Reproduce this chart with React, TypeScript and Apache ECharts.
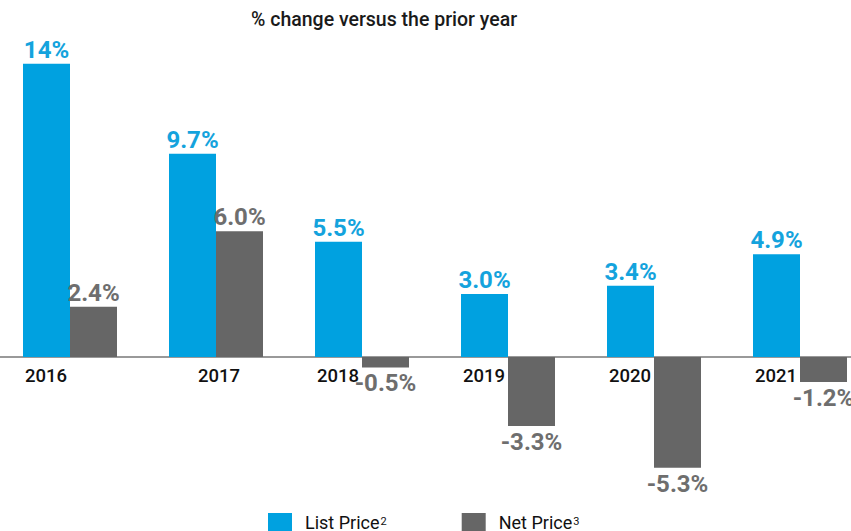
import React, { useEffect, useRef } from "react";
import * as echarts from "echarts";

const years = ["2016", "2017", "2018", "2019", "2020", "2021"];
const listPrice = [14, 9.7, 5.5, 3.0, 3.4, 4.9];
const netPrice = [2.4, 6.0, -0.5, -3.3, -5.3, -1.2];
const listLabels = ["14%", "9.7%", "5.5%", "3.0%", "3.4%", "4.9%"];
const netLabels = ["2.4%", "6.0%", "-0.5%", "-3.3%", "-5.3%", "-1.2%"];

const BLUE = "#00a1e0";
const GREY = "#666666";
const FONT = "Roboto, 'Noto Sans', sans-serif";

export default function App() {
  const ref = useRef<HTMLDivElement>(null);
  useEffect(() => {
    if (!ref.current) return;
    const chart = echarts.init(ref.current, null, { renderer: "svg" });
    const mk = (vals: number[], labels: string[], color: string) =>
      vals.map((v, i) => ({
        value: v,
        label: {
          position: v < 0 ? "bottom" : "top",
          distance: v < 0 ? 4 : 2,
          formatter: () => labels[i],
          color,
        },
      }));
    chart.setOption({
      animation: false,
      title: {
        text: "% change versus the prior year",
        left: 246,
        top: 4,
        textStyle: { fontFamily: FONT, fontSize: 19.5, fontWeight: 500, color: "#1a1a1a" },
      },
      grid: { left: -3, width: 876, top: 22, bottom: 48.5, containLabel: false, outerBoundsMode: "none" },
      legend: {
        left: 263,
        top: 508,
        itemWidth: 24,
        itemHeight: 24,
        itemGap: 75,
        icon: "rect",
        data: ["List Price", "Net Price"],
        formatter: (name: string) =>
          name === "List Price" ? "{n|List Price}{s|2}" : "{n|Net Price}{s|3}",
        textStyle: {
          fontFamily: FONT,
          color: "#111",
          rich: {
            n: { fontSize: 18, fontFamily: FONT, color: "#111", padding: [0, 0, 6, 8], lineHeight: 18 },
            s: { fontSize: 11, fontFamily: FONT, color: "#111", verticalAlign: "top", lineHeight: 13, padding: [0, 0, 0, 1] },
          },
        },
      },
      xAxis: {
        type: "category",
        data: years,
        axisLine: { onZero: true, lineStyle: { color: "#777", width: 1.5 } },
        axisTick: { show: false },
        axisLabel: {
          margin: -116,
          formatter: (v: string) => (v === "2017" ? `{c|${v}}` : `{l|${v}}`),
          rich: {
            l: { fontFamily: FONT, fontSize: 18.5, fontWeight: 500, color: "#111", padding: [0, 48, 0, 0] },
            c: { fontFamily: FONT, fontSize: 18.5, fontWeight: 500, color: "#111", padding: [0, 0, 0, 6] },
          },
        },
      },
      yAxis: {
        type: "value",
        min: -6,
        max: 16,
        axisLine: { show: false },
        axisTick: { show: false },
        axisLabel: { show: false },
        splitLine: { show: false },
      },
      series: [
        {
          name: "List Price",
          type: "bar",
          barWidth: 47,
          barGap: "0%",
          itemStyle: { color: BLUE },
          label: { show: true, fontFamily: FONT, fontSize: 24, fontWeight: "bold" },
          data: mk(listPrice, listLabels, "#14a3dd"),
        },
        {
          name: "Net Price",
          type: "bar",
          barWidth: 47,
          barGap: "0%",
          itemStyle: { color: GREY },
          label: { show: true, fontFamily: FONT, fontSize: 24, fontWeight: "bold" },
          data: mk(netPrice, netLabels, "#6e6e6e"),
        },
      ],
    });
    return () => chart.dispose();
  }, []);
  return (
    <div
      ref={ref}
      style={{ position: "fixed", left: 0, top: 0, width: 851, height: 531, background: "#fff" }}
    />
  );
}
